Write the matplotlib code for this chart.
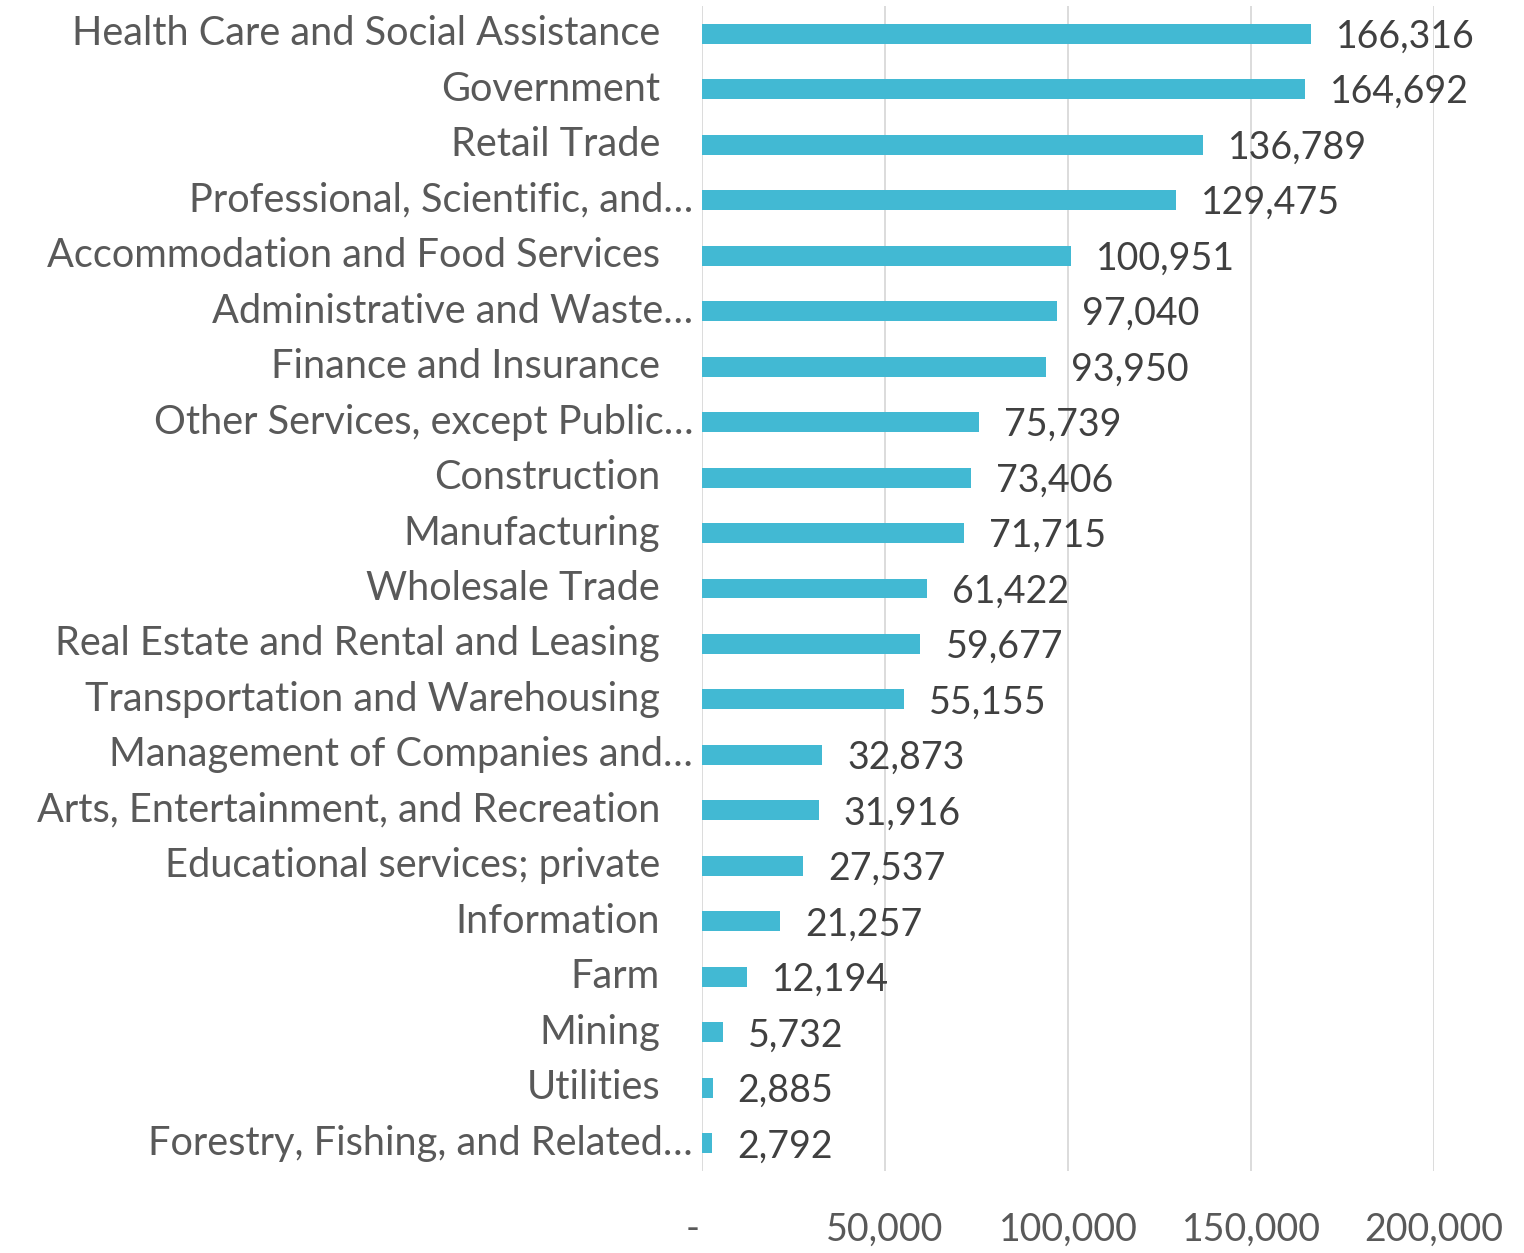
import matplotlib
matplotlib.use("Agg")
import matplotlib.pyplot as plt
import matplotlib.transforms as mtransforms
from matplotlib.ticker import FixedLocator

# Employment by industry
industries = [
    "Health Care and Social Assistance",
    "Government",
    "Retail Trade",
    "Professional, Scientific, and\u2026",
    "Accommodation and Food Services",
    "Administrative and Waste\u2026",
    "Finance and Insurance",
    "Other Services, except Public\u2026",
    "Construction",
    "Manufacturing",
    "Wholesale Trade",
    "Real Estate and Rental and Leasing",
    "Transportation and Warehousing",
    "Management of Companies and\u2026",
    "Arts, Entertainment, and Recreation",
    "Educational services; private",
    "Information",
    "Farm",
    "Mining",
    "Utilities",
    "Forestry, Fishing, and Related\u2026",
]
jobs = [166316, 164692, 136789, 129475, 100951, 97040, 93950, 75739, 73406,
        71715, 61422, 59677, 55155, 32873, 31916, 27537, 21257, 12194, 5732,
        2885, 2792]
x_ticks = [0, 50000, 100000, 150000, 200000]
x_tick_labels = ["-", "50,000", "100,000", "150,000", "200,000"]

BAR = "#42B9D3"
GRID = "#D9D9D9"
LABEL = "#595959"
VALUE = "#404040"
FONT = ["Lato", "DejaVu Sans"]
CAT_SIZE = 28.6
NUM_SIZE = 27

fig = plt.figure(figsize=(15.24, 12.53), dpi=100)
ax = fig.add_axes([702 / 1524, 82 / 1253, 732 / 1524, 1165 / 1253])

n = len(industries)
ypos = list(range(n))
ax.barh(ypos, jobs, height=0.36, color=BAR, zorder=3)
ax.set_ylim(n - 0.5, -0.5)
ax.set_xlim(0, 200000)

ax.xaxis.set_major_locator(FixedLocator(x_ticks))
ax.set_xticklabels(x_tick_labels, fontsize=NUM_SIZE, color=LABEL, family=FONT)
ax.tick_params(axis="x", length=0, pad=29)
# the zero label sits slightly left of the axis origin
zero_lbl = ax.get_xticklabels()[0]
zero_lbl.set_transform(zero_lbl.get_transform() +
                       mtransforms.ScaledTranslation(-9 / 100, 0, fig.dpi_scale_trans))
ax.set_yticks([])
ax.grid(axis="x", color=GRID, linewidth=1.3, zorder=0)
for s in ax.spines.values():
    s.set_visible(False)

for i, (name, v) in enumerate(zip(industries, jobs)):
    off = -9 if name.endswith("\u2026") else -42
    ax.annotate(name, xy=(0, i), xytext=(off, 0), textcoords="offset pixels",
                ha="right", va="center", fontsize=CAT_SIZE, color=LABEL,
                family=FONT, annotation_clip=False)
    ax.annotate(f"{v:,}", xy=(v, i), xytext=(25, -3),
                textcoords="offset pixels", ha="left", va="center",
                fontsize=NUM_SIZE, color=VALUE, family=FONT,
                annotation_clip=False)

fig.savefig("out.png", dpi=100)
